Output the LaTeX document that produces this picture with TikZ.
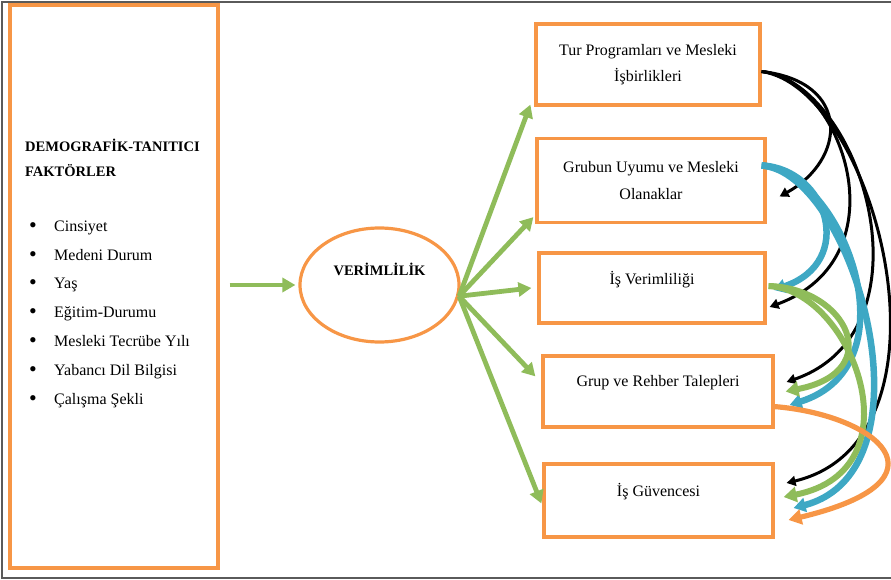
\documentclass[tikz,border=0pt]{standalone}
\usepackage{fontspec}
\setmainfont{Liberation Serif}
\usetikzlibrary{shapes.geometric,arrows.meta}

\definecolor{turuncu}{HTML}{F79646}
\definecolor{yesil}{HTML}{8FBC5A}
\definecolor{mavi}{HTML}{3EA8C4}
\definecolor{gri}{HTML}{5A5A5A}

\tikzstyle{kutu} = [draw=turuncu, line width=3.2pt, align=center, inner sep=0pt, font=\fontsize{16}{26.5}\selectfont]
\tikzstyle{baslik} = [font=\bfseries\fontsize{14.5}{25}\selectfont, inner sep=0pt, anchor=base west]
\tikzstyle{madde} = [font=\fontsize{16}{19}\selectfont, inner sep=0pt, anchor=base west]
\tikzstyle{yesilok} = [draw=yesil, line width=4.8pt, -{Triangle[length=13pt,width=14pt]}]
\tikzstyle{siyahok} = [draw=black, line width=3pt, -{Triangle[length=9pt,width=10pt]}]
\tikzstyle{maviok} = [draw=mavi, line width=6.5pt, -{Triangle[length=12pt,width=14pt]}]
\tikzstyle{yesilegri} = [draw=yesil, line width=6pt, -{Triangle[length=13pt,width=15pt]}]
\tikzstyle{turuncuok} = [draw=turuncu, line width=5.2pt, -{Triangle[length=13pt,width=15pt]}]

\newcommand{\madimi}{\makebox[25pt][l]{\fontsize{22}{19}\selectfont\raisebox{-1.5pt}{\textbullet}}}

\begin{document}
\begin{tikzpicture}[x=1pt, y=-1pt]
\useasboundingbox (0,0) rectangle (891,580);
%cerceve
\draw[gri, line width=1.8pt] (891,2) -- (2,2) -- (2,578) -- (891,578);

%begin sol kutu
\node[kutu, minimum width=208pt, minimum height=563pt] (sol) at (114,286.5) {};
\node[baslik] (b1satir) at (25,152) {DEMOGRAFİK-TANITICI};
\node[baslik] (b2satir) at (25,177) {FAKTÖRLER};
\node[madde] (m1) at (29,231) {\madimi Cinsiyet};
\node[madde] (m2) at (29,260) {\madimi Medeni Durum};
\node[madde] (m3) at (29,288) {\madimi Yaş};
\node[madde] (m4) at (29,317) {\madimi Eğitim-Durumu};
\node[madde] (m5) at (29,346) {\madimi Mesleki Tecrübe Yılı};
\node[madde] (m6) at (29,375) {\madimi Yabancı Dil Bilgisi};
\node[madde] (m7) at (29,404) {\madimi Çalışma Şekli};
%end sol kutu

%begin verimlilik
\node[ellipse, draw=turuncu, line width=3.2pt, minimum width=159pt, minimum height=114pt, inner sep=0pt,
      align=center, font=\bfseries\fontsize{14.5}{17}\selectfont] (verim) at (379.5,285) {VERİMLİLİK\\[14pt]~};
\draw[yesilok, shorten <=10pt, shorten >=3pt] (sol.east |- verim.west) -- (verim.west);
%end verimlilik

%begin faktor kutulari
\node[kutu, minimum width=224pt, minimum height=81pt] (k1) at (648,64.5) {Tur Programları ve Mesleki\\İşbirlikleri};
\node[kutu, minimum width=228pt, minimum height=84pt] (k2) at (651,180.5) {Grubun Uyumu ve Mesleki\\Olanaklar};
\node[kutu, minimum width=226pt, minimum height=70pt] (k3) at (652,288) {İş Verimliliği\\[-6pt]~};
\node[kutu, minimum width=230pt, minimum height=71pt] (k4) at (658,391.5) {Grup ve Rehber Talepleri\\[-6pt]~};
\node[kutu, minimum width=229pt, minimum height=73pt] (k5) at (658.5,500.5) {İş Güvencesi\\[-6pt]~};
%end faktor kutulari

%begin yesil oklar
\coordinate (merkez) at (verim.-8);
\draw[yesilok] (merkez) -- ([xshift=-4pt,yshift=2pt]k1.south west);
\draw[yesilok] (merkez) -- ([xshift=-2pt,yshift=7pt]k2.south west);
\draw[yesilok] (merkez) -- ([xshift=-6pt]k3.west);
\draw[yesilok] (merkez) -- ([xshift=-6pt,yshift=-22pt]k4.north west);
\draw[yesilok] (merkez) -- ([xshift=-1pt,yshift=-3pt]k5.west);
%end yesil oklar

%begin egriler
\coordinate (c1) at ([yshift=-7pt]k1.east);
\coordinate (c2) at ([xshift=-5pt,yshift=15pt]k2.east);
\coordinate (c3) at ([xshift=2pt,yshift=2pt]k3.east);
\coordinate (c4) at ([xshift=-1pt,yshift=-15pt]k4.east);
%siyah
\draw[siyahok] (c1) .. controls +(90,10) and +(67,-37) .. ([xshift=13pt,yshift=-16pt]k2.east);
\draw[siyahok] (c1) .. controls +(80,7) and +(135,-50) .. ([xshift=3pt,yshift=-19pt]k3.east);
\draw[siyahok] (c1) .. controls +(100,11) and +(150,-52) .. ([xshift=12pt,yshift=9.5pt]k4.east);
\draw[siyahok] (c1) .. controls +(115,17) and +(180,-43) .. ([xshift=12pt,yshift=17.5pt]k5.east);
%mavi
\draw[maviok] (c2) .. controls +(66,3) and +(83,-28) .. ([xshift=7pt,yshift=-2pt]k3.east);
\draw[maviok] (c2) .. controls +(80,5) and +(127,-40) .. ([xshift=15pt,yshift=-13.5pt]k4.east);
\draw[maviok] (c2) .. controls +(92,7) and +(145,-38) .. ([xshift=19pt,yshift=-7.5pt]k5.east);
%yesil
\draw[yesilegri] (c3) .. controls +(78,2) and +(102,-20) .. ([xshift=11pt]k4.east);
\draw[yesilegri] (c3) .. controls +(83,4) and +(137,-27) .. ([xshift=9pt,yshift=3.5pt]k5.east);
%turuncu
\draw[turuncuok] (c4) .. controls +(103,8) and +(168,-40) .. ([xshift=14pt,yshift=-19.5pt]k5.east);
%end egriler
\end{tikzpicture}
\end{document}
